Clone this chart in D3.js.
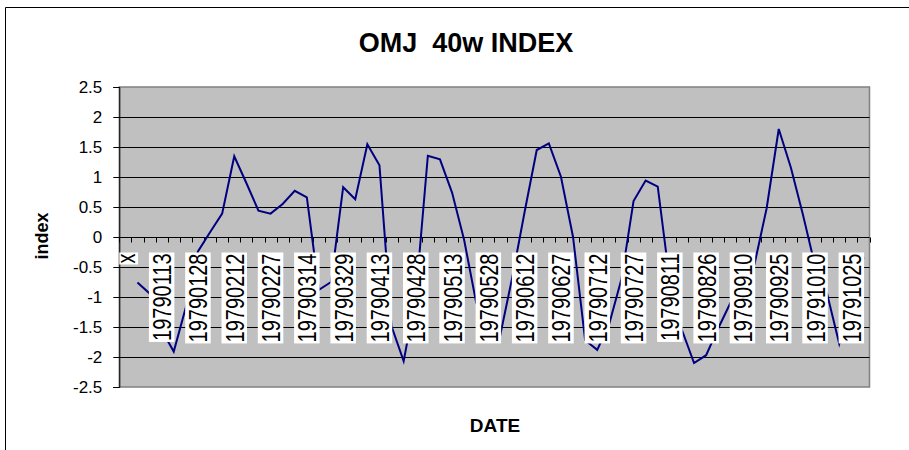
<!DOCTYPE html>
<html>
<head>
<meta charset="utf-8">
<script src="https://cdn.jsdelivr.net/npm/d3@7"></script>
<style>
  html, body { margin: 0; padding: 0; background: #ffffff; }
  svg { display: block; }
  text { font-family: "Liberation Sans", Arial, sans-serif; }
</style>
</head>
<body>
<svg id="chart" width="909" height="450"></svg>
<script>
// ---------------- data ----------------
const categories = [
  "x",
  "19790103","19790108","19790113","19790118","19790123","19790128","19790202","19790207","19790212","19790217",
  "19790222","19790227","19790304","19790309","19790314","19790319","19790324","19790329","19790403","19790408",
  "19790413","19790418","19790423","19790428","19790503","19790508","19790513","19790518","19790523","19790528",
  "19790602","19790607","19790612","19790617","19790622","19790627","19790702","19790707","19790712","19790717",
  "19790722","19790727","19790801","19790806","19790811","19790816","19790821","19790826","19790831","19790905",
  "19790910","19790915","19790920","19790925","19790930","19791005","19791010","19791015","19791020","19791025",
  "19791030"
];
const indexValues = [
  null,
  -0.76, -0.94, -1.55, -1.91, -1.17, -0.24, 0.08, 0.39, 1.345, 0.90,
  0.44, 0.39, 0.55, 0.77, 0.66, -0.88, -0.75, 0.83, 0.63, 1.545,
  1.195, -1.49, -2.07, -1.00, 1.355, 1.295, 0.74, -0.05, -1.10, -1.45,
  -1.62, -0.65, 0.42, 1.45, 1.56, 1.005, 0.00, -1.72, -1.88, -1.44,
  -0.70, 0.60, 0.94, 0.84, -0.75, -1.55, -2.10, -1.97, -1.52, -1.10,
  -0.77, -0.45, 0.48, 1.80, 1.16, 0.37, -0.48, -0.95, -1.78, -1.05,
  -0.34
];
const xTickLabels = ["x","19790113","19790128","19790212","19790227","19790314","19790329","19790413",
  "19790428","19790513","19790528","19790612","19790627","19790712","19790727","19790811",
  "19790826","19790910","19790925","19791010","19791025"];
const yTicks = [2.5, 2, 1.5, 1, 0.5, 0, -0.5, -1, -1.5, -2, -2.5];
const yGrid = [2, 1.5, 1, 0.5, -0.5, -1, -1.5, -2];
const chartTitle = "OMJ  40w INDEX";
const xTitle = "DATE";
const yTitle = "index";

// ---------------- layout ----------------
const svg = d3.select("#chart");
const plot = { left: 119.3, right: 869.5, top: 87, bottom: 387 };

const x = d3.scaleBand().domain(d3.range(categories.length)).range([plot.left, plot.right]).padding(0);
const y = d3.scaleLinear().domain([-2.5, 2.5]).range([plot.bottom, plot.top]);
const cx = i => x(i) + x.bandwidth() / 2;

// background
svg.append("rect").attr("width", 909).attr("height", 450).attr("fill", "#fff");
// chart area border (extends beyond the right and bottom edges)
svg.append("path").attr("d", "M5.5,450 V7.5 H909").attr("fill", "none").attr("stroke", "#000").attr("stroke-width", 1);

// plot area
svg.append("rect")
  .attr("x", plot.left).attr("y", plot.top)
  .attr("width", plot.right - plot.left).attr("height", plot.bottom - plot.top)
  .attr("fill", "#c0c0c0").attr("stroke", "#808080").attr("stroke-width", 1.5);

// gridlines
svg.append("g").selectAll("line").data(yGrid).join("line")
  .attr("x1", plot.left).attr("x2", plot.right)
  .attr("y1", d => Math.round(y(d)) + 0.5).attr("y2", d => Math.round(y(d)) + 0.5)
  .attr("stroke", "#000").attr("stroke-width", 1);

// y axis
const yAxis = svg.append("g")
  .attr("transform", `translate(${plot.left},0)`)
  .call(d3.axisLeft(y).tickValues(yTicks).tickSize(6).tickPadding(11).tickFormat(d => String(d)));
yAxis.select(".domain").attr("stroke", "#000");
yAxis.selectAll(".tick line").attr("stroke", "#000");
yAxis.selectAll(".tick text").attr("font-size", 17).attr("fill", "#000")
  .attr("font-family", "'Liberation Sans', Arial, sans-serif");

// x axis at y = 0 with tick marks between categories
const y0 = Math.round(y(0)) + 0.5;
svg.append("line").attr("x1", plot.left).attr("x2", plot.right)
  .attr("y1", y0).attr("y2", y0).attr("stroke", "#000").attr("stroke-width", 1);
const boundaries = d3.range(categories.length + 1).map(i => i < categories.length ? x(i) : x(i - 1) + x.bandwidth());
svg.append("g").selectAll("line").data(boundaries).join("line")
  .attr("x1", d => Math.round(d) + 0.5).attr("x2", d => Math.round(d) + 0.5)
  .attr("y1", y0).attr("y2", y0 + 5)
  .attr("stroke", "#000").attr("stroke-width", 1);

// data line
const line = d3.line()
  .defined(d => d.v !== null)
  .x(d => cx(d.i))
  .y(d => y(d.v));
svg.append("path")
  .datum(indexValues.map((v, i) => ({ i, v })))
  .attr("d", line)
  .attr("fill", "none").attr("stroke", "#000080").attr("stroke-width", 2)
  .attr("stroke-linejoin", "miter");

// category labels (rotated, white boxes) drawn over the line
const labelTop = 252.5;
const stretch = 1.33;
const labelData = xTickLabels.map(lab => ({ lab, i: categories.indexOf(lab) }));
const lg = svg.append("g");
labelData.forEach(d => {
  const c = cx(d.i);
  const g = lg.append("g");
  const t = g.append("text")
    .attr("transform", `translate(${c + 9.5},${labelTop + 1}) rotate(-90) scale(1,${stretch})`)
    .attr("text-anchor", "end")
    .attr("font-size", 20)
    .attr("fill", "#000")
    .text(d.lab);
  const len = t.node().getComputedTextLength();
  let bx = c - 12.75, bw = 25.5;
  if (bx < plot.left) { bw -= (plot.left - bx); bx = plot.left; }
  g.insert("rect", "text")
    .attr("x", bx).attr("y", labelTop)
    .attr("width", bw).attr("height", len + 2)
    .attr("fill", "#fff");
});

// titles
svg.append("text")
  .attr("x", 466).attr("y", 52)
  .attr("text-anchor", "middle")
  .attr("font-size", 27).attr("font-weight", "bold")
  .style("white-space", "pre")
  .text(chartTitle);

svg.append("text")
  .attr("x", 495).attr("y", 432)
  .attr("text-anchor", "middle")
  .attr("font-size", 19).attr("font-weight", "bold")
  .text(xTitle);

svg.append("text")
  .attr("transform", "translate(48,236) rotate(-90)")
  .attr("text-anchor", "middle")
  .attr("font-size", 18).attr("font-weight", "bold")
  .text(yTitle);
</script>
</body>
</html>
